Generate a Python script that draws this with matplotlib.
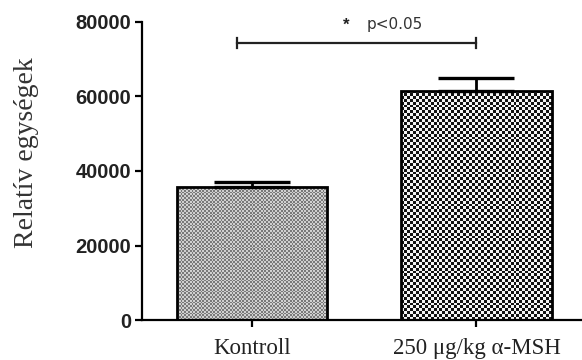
import numpy as np
import matplotlib
matplotlib.use('Agg')
import matplotlib.pyplot as plt

groups = ['Kontroll', '250 μg/kg α-MSH']
means = [35700, 61500]
errors = [1300, 3500]
yticks = [0, 20000, 40000, 60000, 80000]
bracket_y = 74400
sig_star = '*'
sig_text = 'p<0.05'


def fill_checker(ax, rect, cell_px, colors):
    """Fill a bar patch with a checkerboard texture clipped to the bar."""
    x0, y0 = rect.get_x(), rect.get_y()
    x1, y1 = x0 + rect.get_width(), y0 + rect.get_height()
    p0 = ax.transData.transform((x0, y0))
    p1 = ax.transData.transform((x1, y1))
    nx = max(int(abs(p1[0] - p0[0]) / cell_px), 1)
    ny = max(int(abs(p1[1] - p0[1]) / cell_px), 1)
    ii, jj = np.indices((ny, nx))
    board = (ii + jj) % 2
    cmap = matplotlib.colors.ListedColormap(colors)
    im = ax.imshow(board, cmap=cmap, extent=(x0, x1, y0, y1),
                   interpolation='nearest', aspect='auto', zorder=1)
    im.set_clip_path(rect)


def main():
    fig = plt.figure(figsize=(5.82, 3.6), dpi=100)
    ax = fig.add_axes([0.244, 0.111, 0.756, 0.828])

    x = np.arange(len(groups))
    ax.set_xlim(-0.49, 1.47)
    ax.set_ylim(0, 80000)

    bars = ax.bar(x, means, width=0.67, facecolor='none', edgecolor='black',
                  linewidth=2.0, zorder=3)
    ax.errorbar(x, means, yerr=[[0, 0], errors], fmt='none', ecolor='black',
                elinewidth=2.0, capsize=27.5, capthick=2.4, zorder=2)

    textures = [(1.8, ['#7a7a7a', '#d0d0d0']), (2.9, ['#111111', '#f4f4f4'])]
    for rect, (cell, cols) in zip(bars, textures):
        fill_checker(ax, rect, cell, cols)
    ax.set_xlim(-0.49, 1.47)
    ax.set_ylim(0, 80000)

    # significance bracket
    ax.plot([-0.065, 1.0], [bracket_y, bracket_y], color='#222222', lw=1.6,
            clip_on=False)
    for xe in (-0.065, 1.0):
        ax.plot([xe, xe], [bracket_y - 1300, bracket_y + 1300],
                color='#222222', lw=1.6, clip_on=False)
    ax.text(0.42, bracket_y + 2600, sig_star, ha='center', va='bottom',
            fontsize=12, fontweight='bold', color='#222222',
            family='Liberation Sans')
    ax.text(0.51, bracket_y + 3000, sig_text, ha='left', va='bottom',
            fontsize=11, color='#333333', family='DejaVu Sans')

    for side in ('top', 'right'):
        ax.spines[side].set_visible(False)
    ax.spines['left'].set_linewidth(1.6)
    ax.spines['bottom'].set_linewidth(1.6)

    ax.set_yticks(yticks)
    ax.set_yticklabels([str(v) for v in yticks], fontsize=14.5,
                       fontweight='bold', family='Liberation Sans',
                       color='#222222')
    ax.set_xticks(x)
    ax.set_xticklabels(groups, fontsize=16.5, family='Liberation Serif',
                       color='#222222')
    ax.tick_params(axis='y', length=5, width=1.6, pad=3)
    ax.tick_params(axis='x', length=5, width=1.6, pad=8)

    ax.set_ylabel('Relatív egységek', fontsize=20, family='Liberation Serif',
                  color='#333333')
    ax.yaxis.set_label_coords(-0.233, 0.56)

    fig.savefig('out.png', dpi=100)


if __name__ == "__main__":
    main()
